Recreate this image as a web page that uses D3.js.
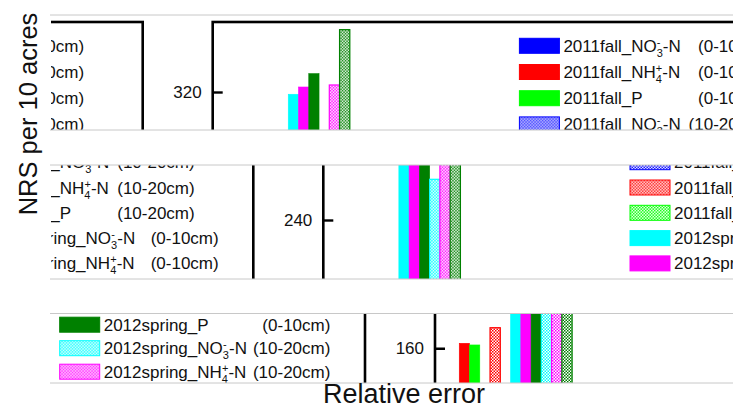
<!DOCTYPE html>
<html>
<head>
<meta charset="utf-8">
<script src="https://cdn.jsdelivr.net/npm/d3@7"></script>
<style>
  body { margin: 0; background: #fff; }
  text { font-family: "Liberation Sans", Arial, sans-serif; fill: #111; }
</style>
</head>
<body>
<div id="chart"></div>
<script>
// series shown in the legend, in bar order
var series = [
  "2011fall_NO3-N (0-10cm)", "2011fall_NH4-N (0-10cm)", "2011fall_P (0-10cm)",
  "2011fall_NO3-N (10-20cm)", "2011fall_NH4-N (10-20cm)", "2011fall_P (10-20cm)",
  "2012spring_NO3-N (0-10cm)", "2012spring_NH4-N (0-10cm)", "2012spring_P (0-10cm)",
  "2012spring_NO3-N (10-20cm)", "2012spring_NH4-N (10-20cm)", "2012spring_P (10-20cm)"
];
// NRS per 10 acres (the low ones are hidden below the strips)
var values = [120, 164.2, 162.8, 98, 177.3, 126, 318.1, 324.2, 335.4, 274.2, 325.9, 372.4];
var colors = ["#0000ff", "#ff0000", "#00ff00", "#0000ff", "#ff0000", "#00ff00",
              "#00ffff", "#ff00ff", "#008000", "#00ffff", "#ff00ff", "#008000"];
var hatched = [false, false, false, true, true, true, false, false, false, true, true, true];
var yTicks = [0, 80, 160, 240, 320];

// the picture is three wrapped strips of the same chart
var strips = [
  {top: 15,    bottom: 130, axisX: 212.7, tick: 320, tickY: 92,    row0: 45.8,  rowStep: 26.2},
  {top: 165,   bottom: 279, axisX: 323.3, tick: 240, tickY: 220,   row0: 86.3,  rowStep: 25.3},
  {top: 313.5, bottom: 383, axisX: 435,   tick: 160, tickY: 348.3, row0: 136.7, rowStep: 23.5}
];

var W = 736, H = 407;
var left = 51, right = 733;
var period = 682, frameW = 612, k = 1.19;
var legX = 306.7, legW = 271;

var svg = d3.select("#chart").append("svg")
  .attr("width", W).attr("height", H);

var defs = svg.append("defs");
// small checker hatch for the 10-20cm series
Array.from(new Set(colors.filter(function(c, i) { return hatched[i]; }))).forEach(function(c) {
  var p = defs.append("pattern")
    .attr("id", "hatch" + c.slice(1))
    .attr("patternUnits", "userSpaceOnUse")
    .attr("width", 3).attr("height", 3);
  p.append("rect").attr("width", 3).attr("height", 3).attr("fill", "#fff");
  p.append("rect").attr("width", 1.5).attr("height", 1.5).attr("fill", c);
  p.append("rect").attr("x", 1.5).attr("y", 1.5).attr("width", 1.5).attr("height", 1.5).attr("fill", c);
});

function fillOf(i) { return hatched[i] ? "url(#hatch" + colors[i].slice(1) + ")" : colors[i]; }

function parseName(name) {
  var m = name.match(/^(\S+?)_(\S+) \((.+)\)$/);
  return {season: m[1], nut: m[2], depth: m[3]};
}

function writeName(text, p) {
  text.append("tspan").text(p.season + "_");
  if (p.nut == "P") {
    text.append("tspan").text("P");
  } else {
    var sub = p.nut[2];
    text.append("tspan").text(p.nut.slice(0, 2));
    text.append("tspan").attr("dy", 5).attr("font-size", 11).text(sub);
    text.append("tspan").attr("dx", -6).attr("dy", -11).attr("font-size", 11).text(sub == "3" ? "-" : "+");
    text.append("tspan").attr("dx", sub == "3" ? 2.4 : 0).attr("dy", 6).text("-N");
  }
}

// draws one copy of the chart with its y axis at ox, skipping parts the strip cannot show
function drawChart(g, s, ox) {
  var y0 = s.tickY + s.tick * k;
  var frameTop = s.row0 - 23.8;
  var y = d3.scaleLinear().domain([0, (y0 - frameTop) / k]).range([y0, frameTop]);
  var x = d3.scaleBand().domain(series).range([14, 14 + 10.26 * series.length]).padding(0);
  var inRows = function(yy, pad) { return yy + pad > s.top && yy - pad < s.bottom; };

  // bars
  if (ox + x.range()[1] > left && ox < right) {
    g.selectAll(".bar").data(series).enter().append("rect")
      .attr("class", "bar")
      .attr("x", function(d) { return x(d); })
      .attr("y", function(d, i) { return y(values[i]); })
      .attr("width", x.bandwidth())
      .attr("height", function(d, i) { return y(0) - y(values[i]); })
      .attr("fill", function(d, i) { return fillOf(i); })
      .attr("stroke", function(d, i) { return colors[i]; })
      .attr("stroke-width", function(d, i) { return hatched[i] ? 1.2 : 0.6; });
  }

  // frame
  g.append("rect")
    .attr("x", 0).attr("y", frameTop)
    .attr("width", frameW).attr("height", y0 - frameTop)
    .attr("fill", "none").attr("stroke", "#000").attr("stroke-width", 2.6);

  // y axis, ticks pointing in
  if (ox > left && ox - 45 < right) {
    var ax = g.append("g")
      .call(d3.axisLeft(y)
        .tickValues(yTicks.filter(function(t) { return inRows(y(t), 8); }))
        .tickSizeInner(-10).tickSizeOuter(0).tickPadding(11));
    ax.select(".domain").remove();
    ax.selectAll("line").attr("stroke", "#000").attr("stroke-width", 2.4);
    ax.selectAll("text").attr("font-size", 17).attr("fill", "#111")
      .style("font-family", "Liberation Sans, Arial, sans-serif");
  }

  // legend
  if (ox + legX < right && ox + legX + legW > left) {
    var rows = series.filter(function(d, i) { return inRows(s.row0 + i * s.rowStep, 9); });
    var leg = g.selectAll(".leg").data(rows).enter().append("g")
      .attr("class", "leg")
      .attr("transform", function(d) {
        return "translate(" + legX + "," + (s.row0 + series.indexOf(d) * s.rowStep) + ")";
      });
    leg.append("rect")
      .attr("x", 0).attr("y", -7.5)
      .attr("width", 40).attr("height", 15)
      .attr("fill", function(d) { return fillOf(series.indexOf(d)); })
      .attr("stroke", function(d) { return colors[series.indexOf(d)]; })
      .attr("stroke-width", 1);
    leg.append("text")
      .attr("x", 44).attr("y", 6)
      .attr("font-size", 17)
      .each(function(d) { writeName(d3.select(this), parseName(d)); });
    // depth column, right aligned per season
    leg.append("text")
      .attr("x", function(d) { return parseName(d).season == "2011fall" ? 246.7 : 270.7; })
      .attr("y", 6)
      .attr("text-anchor", "end")
      .attr("font-size", 17)
      .text(function(d) { return "(" + parseName(d).depth + ")"; });
  }
}

strips.forEach(function(s, i) {
  defs.append("clipPath").attr("id", "clip" + i)
    .append("rect")
    .attr("x", left).attr("y", s.top)
    .attr("width", right - left).attr("height", s.bottom - s.top);
  var sg = svg.append("g").attr("clip-path", "url(#clip" + i + ")");
  [s.axisX, s.axisX - period].forEach(function(ox) {
    drawChart(sg.append("g").attr("transform", "translate(" + ox + ",0)"), s, ox);
  });
  // light strip borders
  [s.top, s.bottom].forEach(function(yy) {
    svg.append("line")
      .attr("x1", 50).attr("x2", right).attr("y1", yy).attr("y2", yy)
      .attr("stroke", "#c8c8c8").attr("stroke-width", 1);
  });
});

// axis titles
svg.append("text")
  .attr("transform", "translate(37,114) rotate(-90)")
  .attr("text-anchor", "middle")
  .attr("font-size", 25.5)
  .text("NRS per 10 acres");

svg.append("text")
  .attr("x", 404).attr("y", 403)
  .attr("text-anchor", "middle")
  .attr("font-size", 27)
  .text("Relative error");
</script>
</body>
</html>
